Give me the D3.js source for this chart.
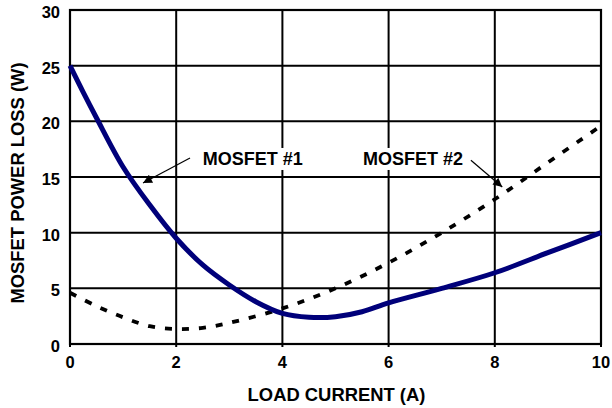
<!DOCTYPE html>
<html><head><meta charset="utf-8">
<script src="https://cdn.jsdelivr.net/npm/d3@7/dist/d3.min.js"></script>
<style>body{margin:0;background:#fff}svg{display:block}text{font-family:"Liberation Sans",Arial,sans-serif;font-weight:bold;fill:#000}</style>
</head><body><svg id="c" width="612" height="408"></svg>
<script>
const xTicks = [0, 2, 4, 6, 8, 10];
const yTicks = [0, 5, 10, 15, 20, 25, 30];
const mosfet1X = [0, 0.25, 0.5, 1, 1.5, 2, 2.5, 3, 3.5, 4, 4.5, 5, 5.5, 6, 7, 8, 9, 10];
const mosfet1Y = [25, 22.6, 20.3, 15.9, 12.5, 9.5, 7.1, 5.3, 3.8, 2.75, 2.4, 2.45, 2.9, 3.7, 5.0, 6.4, 8.2, 10.0];
const mosfet2X = [0, 0.5, 1, 1.5, 2, 2.5, 3, 4, 5, 6, 7, 8, 9, 10];
const mosfet2Y = [4.6, 3.4, 2.4, 1.6, 1.35, 1.45, 1.9, 3.2, 5.0, 7.3, 10.0, 13.0, 16.3, 19.6];
const labels = ["MOSFET #1", "MOSFET #2"];
const labelX = [2.5, 5.52];
const labelY = [16.08, 16.08];
const arrowFrom = [[2.26, 16.7], [7.55, 16.5]];
const arrowTo = [[1.375, 14.46], [8.14, 14.1]];
const xTitle = "LOAD CURRENT (A)";
const yTitle = "MOSFET POWER LOSS (W)";

const L = 70, R = 601, T = 10, B = 344;
const x = d3.scaleLinear().domain([0, 10]).range([L, R]);
const y = d3.scaleLinear().domain([0, 30]).range([B, T]);
const svg = d3.select("#c");

svg.append("defs").append("marker").attr("id", "ah").attr("viewBox", "0 0 10 10")
  .attr("refX", 10).attr("refY", 5).attr("markerWidth", 13).attr("markerHeight", 9)
  .attr("markerUnits", "userSpaceOnUse").attr("orient", "auto")
  .append("path").attr("d", "M0,0L10,5L0,10z").attr("fill", "#000");

// grid
svg.append("g").selectAll("line").data(xTicks.slice(1, -1)).join("line")
  .attr("x1", d => x(d)).attr("x2", d => x(d)).attr("y1", T).attr("y2", B + 3)
  .attr("stroke", "#000").attr("stroke-width", 2);
svg.append("g").selectAll("line").data(yTicks.slice(1, -1)).join("line")
  .attr("x1", L).attr("x2", R).attr("y1", d => y(d)).attr("y2", d => y(d))
  .attr("stroke", "#000").attr("stroke-width", 2);
svg.append("g").selectAll("line").data([0, 10]).join("line")
  .attr("x1", d => x(d)).attr("x2", d => x(d)).attr("y1", B).attr("y2", B + 3)
  .attr("stroke", "#000").attr("stroke-width", 2);

// label backgrounds
const lg = svg.append("g");
labels.forEach((t, i) => {
  const tx = lg.append("text").attr("x", x(labelX[i])).attr("y", y(labelY[i]))
    .attr("font-size", 18).text(t);
  const bb = tx.node().getBBox();
  lg.insert("rect", "text").attr("x", bb.x - 2).attr("y", bb.y - 1)
    .attr("width", bb.width + 4).attr("height", bb.height + 2).attr("fill", "#fff");
});

// border
svg.append("rect").attr("x", L).attr("y", T).attr("width", R - L).attr("height", B - T)
  .attr("fill", "none").attr("stroke", "#000").attr("stroke-width", 2.2);

const line = d3.line().x(d => x(d[0])).y(d => y(d[1])).curve(d3.curveCatmullRom.alpha(0.5));
svg.append("path").datum(mosfet2X.map((v, i) => [v, mosfet2Y[i]]))
  .attr("d", line).attr("fill", "none").attr("stroke", "#000")
  .attr("stroke-width", 3.8).attr("stroke-dasharray", "7,10");
svg.append("path").datum(mosfet1X.map((v, i) => [v, mosfet1Y[i]]))
  .attr("d", line).attr("fill", "none").attr("stroke", "#00007a")
  .attr("stroke-width", 5).attr("stroke-linejoin", "round");

// arrows
arrowFrom.forEach((f, i) => {
  svg.append("line").attr("x1", x(f[0])).attr("y1", y(f[1]))
    .attr("x2", x(arrowTo[i][0])).attr("y2", y(arrowTo[i][1]))
    .attr("stroke", "#000").attr("stroke-width", 1.2).attr("marker-end", "url(#ah)");
});

// tick labels
svg.append("g").selectAll("text").data(xTicks).join("text")
  .attr("x", d => x(d)).attr("y", B + 24).attr("text-anchor", "middle")
  .attr("font-size", 16.5).text(d => d);
svg.append("g").selectAll("text").data(yTicks).join("text")
  .attr("x", L - 10).attr("y", d => y(d) + 8).attr("text-anchor", "end")
  .attr("font-size", 16.5).text(d => d);

svg.append("text").attr("x", (L + R) / 2 + 1).attr("y", B + 57).attr("text-anchor", "middle")
  .attr("font-size", 18.4).text(xTitle);
svg.append("text").attr("transform", `translate(24,${(T + B) / 2 + 6}) rotate(-90)`)
  .attr("text-anchor", "middle").attr("font-size", 18.4).text(yTitle);
</script></body></html>
